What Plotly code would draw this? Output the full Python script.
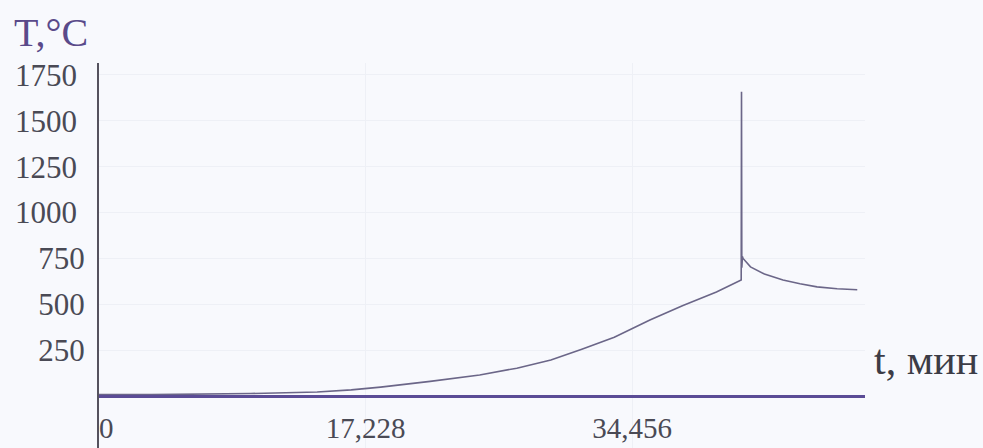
import plotly.graph_objects as go

# Temperature vs. time readings (minutes, °C)
t_min = [0.0, 3.4, 9.8, 14.1, 16.3, 18.2, 21.4, 24.6, 27.0, 29.2, 31.2, 33.3,
         35.6, 37.7, 39.9, 41.50, 41.52, 41.54, 41.56, 41.58, 41.62, 42.1,
         43.0, 44.2, 45.3, 46.4, 47.7, 49.0]
temp_c = [8, 8, 14, 22, 34, 49, 80, 115, 152, 196, 255, 320,
          415, 492, 567, 633, 1659, 700, 1225, 760, 750, 704,
          665, 633, 612, 595, 585, 579]

x_ticks = [0, 17.228, 34.456]
x_tick_text = ["\u00a0\u00a00", "17,228", "34,456"]
y_ticks = [250, 500, 750, 1000, 1250, 1500, 1750]
y_tick_text = ["250", "500", "750", "1000\u00a0", "1250\u00a0", "1500\u00a0", "1750\u00a0"]

SERIF = "Liberation Serif"

fig = go.Figure()
fig.add_trace(go.Scatter(
    x=t_min, y=temp_c, mode="lines",
    line=dict(color="#6b6688", width=1.6),
    showlegend=False, hoverinfo="skip",
))

fig.update_layout(
    width=983, height=448,
    margin=dict(l=99, r=118, t=63, b=0),
    paper_bgcolor="#f8f9fd", plot_bgcolor="#f8f9fd",
    font=dict(family=SERIF, color="#4a4a55"),
    xaxis=dict(
        range=[0, 49.5], anchor="free", position=0.135,
        tickvals=x_ticks, ticktext=x_tick_text,
        tickfont=dict(family=SERIF, size=29, color="#4a4a55"),
        showline=True, linecolor="#5b4c96", linewidth=2.5,
        showgrid=True, gridcolor="#eef0f6", gridwidth=1,
        zeroline=False, ticks="", ticklabelstandoff=5,
    ),
    yaxis=dict(
        range=[-283, 1815],
        tickvals=y_ticks, ticktext=y_tick_text,
        tickfont=dict(family=SERIF, size=31, color="#4a4a55"),
        showline=True, linecolor="#55525e", linewidth=2,
        showgrid=True, gridcolor="#eef0f6", gridwidth=1,
        zeroline=False, ticks="", ticklabelstandoff=6,
    ),
    annotations=[
        dict(text="T,°C", xref="paper", yref="paper", x=-0.113, y=1.08,
             xanchor="left", yanchor="middle", showarrow=False,
             font=dict(size=40, color="#5a4a8a", family=SERIF)),
        dict(text="t, мин", xref="paper", yref="paper", x=1.009, y=0.228,
             xanchor="left", yanchor="middle", showarrow=False,
             font=dict(size=42, color="#3c3c46", family=SERIF)),
    ],
)

fig.write_html("out.html")
